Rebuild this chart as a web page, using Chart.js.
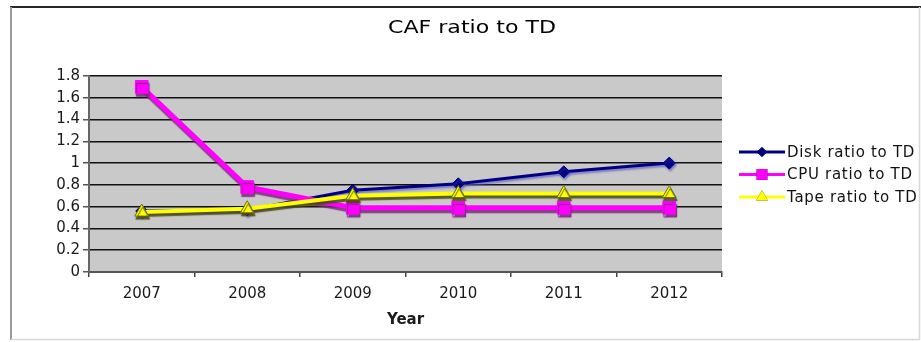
<!DOCTYPE html>
<html>
<head>
<meta charset="utf-8">
<title>CAF ratio to TD</title>
<script src="https://cdn.jsdelivr.net/npm/chart.js@4/dist/chart.umd.min.js"></script>
<style>
  html, body { margin: 0; padding: 0; background: #ffffff; }
  #wrap { position: relative; width: 921px; height: 342px; }
</style>
</head>
<body>
<div id="wrap"><canvas id="chart" width="921" height="342"></canvas></div>
<script>
// Category axis
const years = ['2007', '2008', '2009', '2010', '2011', '2012'];

// Series values
const diskRatio = [0.56, 0.57, 0.75, 0.81, 0.92, 1.00];
const cpuRatio  = [1.70, 0.78, 0.59, 0.59, 0.59, 0.59];
const tapeRatio = [0.55, 0.58, 0.70, 0.72, 0.72, 0.72];

// Series names
const seriesNames = ['Disk ratio to TD', 'CPU ratio to TD', 'Tape ratio to TD'];

// Value axis ticks
const yTicks = [0, 0.2, 0.4, 0.6, 0.8, 1, 1.2, 1.4, 1.6, 1.8];

const chartTitle = 'CAF ratio to TD';

const FONT = "'DejaVu Sans', Verdana, sans-serif";

// Per-series drop shadow, the old spreadsheet look
const shadowStyles = [
  { color: 'rgba(90, 90, 200, 0.7)', x: 1, y: 2, blur: 2 },
  { color: 'rgba(120, 40, 120, 0.85)', x: 1, y: 3, blur: 1 },
  { color: 'rgba(70, 70, 20, 0.85)', x: 1, y: 3, blur: 1 }
];

const seriesShadow = {
  id: 'seriesShadow',
  beforeDatasetDraw(chart, args) {
    const s = shadowStyles[args.index];
    const ctx = chart.ctx;
    ctx.save();
    ctx.shadowColor = s.color;
    ctx.shadowOffsetX = s.x;
    ctx.shadowOffsetY = s.y;
    ctx.shadowBlur = s.blur;
  },
  afterDatasetDraw(chart) {
    chart.ctx.restore();
  }
};

// Grey plot area, outer frame and the heading
const plotFrame = {
  id: 'plotFrame',
  beforeDraw(chart) {
    const { ctx, chartArea: a } = chart;
    ctx.save();
    ctx.fillStyle = '#ffffff';
    ctx.fillRect(0, 0, chart.width, chart.height);
    ctx.fillStyle = '#c9c9c9';
    ctx.fillRect(a.left, a.top, a.right - a.left, a.bottom - a.top);
    // outer chart border
    ctx.strokeStyle = '#2a2a2a';
    ctx.lineWidth = 2;
    ctx.beginPath();
    ctx.moveTo(10, 7);
    ctx.lineTo(chart.width, 7);
    ctx.stroke();
    ctx.strokeStyle = '#9a9a9a';
    ctx.beginPath();
    ctx.moveTo(11, 7);
    ctx.lineTo(11, 340);
    ctx.stroke();
    ctx.strokeStyle = '#d8d8d8';
    ctx.lineWidth = 1.5;
    ctx.beginPath();
    ctx.moveTo(919.5, 7);
    ctx.lineTo(919.5, 340);
    ctx.moveTo(11, 339.5);
    ctx.lineTo(919.5, 339.5);
    ctx.stroke();
    // heading, a wide face
    ctx.translate(472, 29);
    ctx.scale(1.3, 1);
    ctx.fillStyle = '#000000';
    ctx.font = '17px ' + FONT;
    ctx.textAlign = 'center';
    ctx.textBaseline = 'middle';
    ctx.fillText(chartTitle, 0, 0);
    ctx.restore();
  }
};

// Legend with line + marker samples at the right of the plot
const sideLegend = {
  id: 'sideLegend',
  afterDraw(chart) {
    const ctx = chart.ctx;
    ctx.save();
    chart.data.datasets.forEach((ds, i) => {
      const y = 152 + i * 22.5;
      ctx.strokeStyle = ds.borderColor;
      ctx.lineWidth = 3;
      ctx.beginPath();
      ctx.moveTo(739, y);
      ctx.lineTo(785, y);
      ctx.stroke();
      Chart.helpers.drawPoint(ctx, {
        pointStyle: ds.pointStyle,
        radius: ds.pointRadius * 0.85,
        borderWidth: 0
      }, 762, y);
      ctx.fillStyle = ds.pointBackgroundColor;
      ctx.fill();
      ctx.fillStyle = '#111111';
      ctx.font = '15px ' + FONT;
      ctx.letterSpacing = '0.7px';
      ctx.textAlign = 'left';
      ctx.textBaseline = 'middle';
      ctx.fillText(ds.label, 787, y + 1);
    });
    ctx.restore();
  }
};

new Chart(document.getElementById('chart'), {
  type: 'line',
  data: {
    labels: years,
    datasets: [
      {
        label: seriesNames[0],
        data: diskRatio,
        order: 2,
        borderColor: '#000080',
        backgroundColor: '#000080',
        pointBackgroundColor: '#000080',
        pointBorderColor: '#000080',
        borderWidth: 3,
        pointStyle: 'rectRot',
        pointRadius: 6,
        pointBorderWidth: 1
      },
      {
        label: seriesNames[1],
        data: cpuRatio,
        order: 1,
        borderColor: '#ff00ff',
        backgroundColor: '#ff00ff',
        pointBackgroundColor: '#ff00ff',
        pointBorderColor: '#ff00ff',
        borderWidth: 5,
        pointStyle: 'rect',
        pointRadius: 9,
        pointBorderWidth: 1
      },
      {
        label: seriesNames[2],
        data: tapeRatio,
        order: 0,
        borderColor: '#ffff00',
        backgroundColor: '#ffff00',
        pointBackgroundColor: '#ffff00',
        pointBorderColor: '#6a6a20',
        borderWidth: 4,
        pointStyle: 'triangle',
        pointRadius: 8,
        pointBorderWidth: 1
      }
    ]
  },
  options: {
    responsive: false,
    animation: false,
    devicePixelRatio: 1,
    layout: { padding: { left: 0, right: 199, top: 76, bottom: 0 } },
    plugins: {
      legend: { display: false },
      tooltip: { enabled: false },
      title: { display: false }
    },
    scales: {
      x: {
        type: 'category',
        offset: true,
        grid: {
          offset: true,
          drawOnChartArea: false,
          drawTicks: true,
          tickLength: 5,
          color: '#444444',
          lineWidth: 1.5
        },
        border: { display: true, color: '#555555', width: 2 },
        ticks: {
          color: '#1a1a1a',
          font: { family: FONT, size: 15 },
          padding: 8,
          maxRotation: 0
        },
        title: {
          display: true,
          text: 'Year',
          color: '#1a1a1a',
          font: { family: FONT, size: 15, weight: 'bold', lineHeight: 1.2 },
          padding: { top: 0, bottom: 13 }
        }
      },
      y: {
        min: yTicks[0],
        max: yTicks[yTicks.length - 1],
        afterBuildTicks(scale) {
          scale.ticks = yTicks.map(v => ({ value: v }));
        },
        afterFit(scale) { scale.width = 89; },
        grid: {
          color: '#111111',
          lineWidth: 1.5,
          tickLength: 6,
          tickColor: '#555555'
        },
        border: { display: true, color: '#666666', width: 2 },
        ticks: {
          color: '#1a1a1a',
          font: { family: FONT, size: 15 },
          padding: 3,
          callback: v => String(Number(v.toFixed(1)))
        }
      }
    }
  },
  plugins: [plotFrame, seriesShadow, sideLegend]
});
</script>
</body>
</html>
